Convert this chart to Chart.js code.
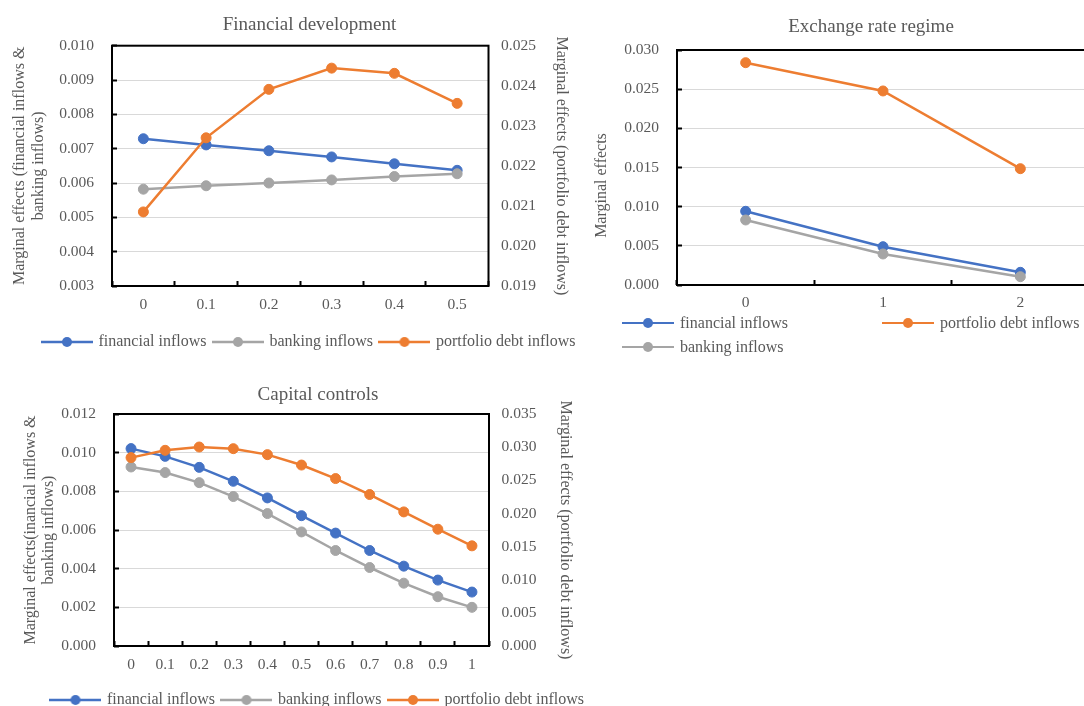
<!DOCTYPE html>
<html>
<head>
<meta charset="utf-8">
<title>Marginal effects</title>
<script src="https://cdn.jsdelivr.net/npm/chart.js@4.4.1/dist/chart.umd.min.js"></script>
<style>
  html, body { margin: 0; padding: 0; background: #fff; overflow: hidden; width: 1084px; height: 706px; }
  canvas { position: absolute; }
  #fdChart { left: 0; top: 0; }
  #erChart { left: 590px; top: 0; }
  #ccChart { left: 0; top: 370px; }
  .legend { position: absolute; left: 622px; top: 311px; display: grid; grid-template-columns: 260px auto; grid-auto-rows: 24px;
            font: 16px "Liberation Serif", "Times New Roman", serif; color: #595959; }
  .legend .item { display: flex; align-items: center; white-space: nowrap; }
  .legend .sym { position: relative; width: 52px; height: 2.5px; margin-right: 6px; }
  .legend .sym::after { content: ''; position: absolute; left: 21px; top: -3.75px; width: 10px; height: 10px; border-radius: 50%; background: inherit; }
</style>
</head>
<body>
<canvas id="fdChart" width="619" height="360"></canvas>
<canvas id="erChart" width="562" height="360"></canvas>
<canvas id="ccChart" width="636" height="348"></canvas>
<div class="legend" id="erLegend"></div>

<script>
// values
const fdLabels = ['0', '0.1', '0.2', '0.3', '0.4', '0.5'];
const fdFinancial = [0.00729, 0.00711, 0.00694, 0.00676, 0.00656, 0.00637];
const fdBanking = [0.00582, 0.00592, 0.00600, 0.00609, 0.00619, 0.00627];
const fdPortfolio = [0.02085, 0.02270, 0.02391, 0.02444, 0.02431, 0.02356];

const erLabels = ['0', '1', '2'];
const erFinancial = [0.00941, 0.00489, 0.00162];
const erBanking = [0.00830, 0.00396, 0.00106];
const erPortfolio = [0.02838, 0.02477, 0.01485];

const ccLabels = ['0', '0.1', '0.2', '0.3', '0.4', '0.5', '0.6', '0.7', '0.8', '0.9', '1'];
const ccFinancial = [0.01021, 0.00981, 0.00924, 0.00852, 0.00766, 0.00674, 0.00584, 0.00494, 0.00413, 0.00341, 0.00279];
const ccBanking = [0.00926, 0.00897, 0.00845, 0.00773, 0.00685, 0.00590, 0.00494, 0.00406, 0.00325, 0.00255, 0.00200];
const ccPortfolio = [0.02842, 0.02952, 0.03002, 0.02977, 0.02887, 0.02730, 0.02526, 0.02285, 0.02023, 0.01762, 0.01511];

const BLUE = '#4472C4';
const GREY = '#A5A5A5';
const ORANGE = '#ED7D31';
const TEXT = '#595959';

Chart.defaults.font.family = '"Liberation Serif", "Times New Roman", serif';
Chart.defaults.color = TEXT;
Chart.defaults.animation = false;

// little line-with-dot picture used as legend marker
function legendSymbol(color) {
    const c = document.createElement('canvas');
    c.width = 52;
    c.height = 12;
    const ctx = c.getContext('2d');
    ctx.strokeStyle = color;
    ctx.lineWidth = 2.5;
    ctx.beginPath();
    ctx.moveTo(0, 6);
    ctx.lineTo(52, 6);
    ctx.stroke();
    ctx.fillStyle = color;
    ctx.beginPath();
    ctx.arc(26, 6, 5, 0, Math.PI * 2);
    ctx.fill();
    return c;
}

function series(label, data, color, axis, order) {
    return {
        label: label,
        data: data,
        borderColor: color,
        backgroundColor: color,
        pointBackgroundColor: color,
        pointBorderColor: color,
        borderWidth: 2.5,
        pointRadius: 5,
        pointHoverRadius: 5,
        pointBorderWidth: 1,
        tension: 0,
        yAxisID: axis,
        order: order
    };
}

const fixWidth = w => scale => { scale.width = w; };
const fixHeight = h => scale => { scale.height = h; };
const fmt = v => v.toFixed(3);

function catAxis(height, pad) {
    return {
        type: 'category',
        offset: true,
        ticks: { padding: pad, font: { size: 15.5 }, autoSkip: false, maxRotation: 0 },
        grid: { offset: true, drawOnChartArea: false, tickLength: -5, tickColor: '#000', tickWidth: 2 },
        border: { display: false },
        afterFit: fixHeight(height)
    };
}

function leftAxis(min, max, step, title, width, titlePad) {
    return {
        type: 'linear',
        position: 'left',
        min: min,
        max: max,
        ticks: { stepSize: step, padding: 23, font: { size: 15.5 }, callback: fmt },
        grid: { color: '#D9D9D9', lineWidth: 1, tickLength: -5, tickColor: '#000', tickWidth: 2 },
        border: { display: false },
        title: { display: true, text: title, color: TEXT, font: { size: 16, lineHeight: 1.15 }, padding: { top: titlePad, bottom: 0 } },
        afterFit: fixWidth(width)
    };
}

function rightAxis(min, max, step, title, width, titlePad) {
    return {
        type: 'linear',
        position: 'right',
        min: min,
        max: max,
        ticks: { stepSize: step, padding: 12.5, font: { size: 15.5 }, callback: fmt },
        grid: { display: false, drawTicks: false },
        border: { display: false },
        title: { display: true, text: title, color: TEXT, font: { size: 16, lineHeight: 1.15 }, padding: { top: titlePad, bottom: 0 } },
        afterFit: fixWidth(width)
    };
}

function legendOpts() {
    return {
        position: 'bottom',
        labels: {
            usePointStyle: true,
            pointStyleWidth: 47,
            padding: 8,
            color: TEXT,
            font: { size: 16 },
            sort: (a, b) => a.datasetIndex - b.datasetIndex,
            generateLabels(chart) {
                return Chart.defaults.plugins.legend.labels.generateLabels(chart).map(item => {
                    item.pointStyle = legendSymbol(chart.data.datasets[item.datasetIndex].borderColor);
                    return item;
                });
            }
        }
    };
}

function titleOpts(text, top, bottom) {
    return { display: true, text: text, color: TEXT, font: { size: 19, weight: 'normal' }, padding: { top: top, bottom: bottom } };
}

// black frame round the plot area
const plotBox = {
    id: 'plotBox',
    beforeDatasetsDraw(chart) {
        const { ctx, chartArea: a } = chart;
        ctx.save();
        ctx.strokeStyle = '#000';
        ctx.lineWidth = 2;
        ctx.strokeRect(a.left, a.top, a.right - a.left, a.bottom - a.top);
        ctx.restore();
    }
};

const RIGHT_TITLE = 'Marginal effects (portfolio debt inflows)';

new Chart(document.getElementById('fdChart'), {
    type: 'line',
    data: {
        labels: fdLabels,
        datasets: [
            series('financial inflows', fdFinancial, BLUE, 'y', 2),
            series('banking inflows', fdBanking, GREY, 'y', 1),
            series('portfolio debt inflows', fdPortfolio, ORANGE, 'y1', 0)
        ]
    },
    options: {
        responsive: false,
        layout: { padding: 0 },
        plugins: {
            title: titleOpts('Financial development', 13.6, 9.3),
            legend: legendOpts(),
            tooltip: { enabled: false }
        },
        scales: {
            x: catAxis(40, 14.7),
            y: leftAxis(0.003, 0.010, 0.001, ['Marginal effects (financial inflows &', 'banking inflows)'], 112, 10.8),
            y1: rightAxis(0.019, 0.025, 0.001, RIGHT_TITLE, 130.5, 48.8)
        }
    },
    plugins: [plotBox]
});

new Chart(document.getElementById('erChart'), {
    type: 'line',
    data: {
        labels: erLabels,
        datasets: [
            series('financial inflows', erFinancial, BLUE, 'y', 2),
            series('banking inflows', erBanking, GREY, 'y', 1),
            series('portfolio debt inflows', erPortfolio, ORANGE, 'y', 0)
        ]
    },
    options: {
        responsive: false,
        layout: { padding: { bottom: 45 } },
        plugins: {
            title: titleOpts('Exchange rate regime', 15.3, 11.9),
            legend: { display: false },
            tooltip: { enabled: false }
        },
        scales: {
            x: catAxis(30, 14),
            y: leftAxis(0, 0.030, 0.005, 'Marginal effects' + '\u00a0'.repeat(9), 87, 2.5),
            // empty spacer so the plot runs past the right edge like the original
            yr: {
                type: 'linear',
                position: 'right',
                ticks: { display: false },
                grid: { display: false, drawTicks: false },
                border: { display: false },
                afterFit: fixWidth(63)
            }
        }
    },
    plugins: [plotBox]
});

// legend for the exchange rate chart, laid out in two columns
const erLegendItems = [
    ['financial inflows', BLUE],
    ['portfolio debt inflows', ORANGE],
    ['banking inflows', GREY]
];
document.getElementById('erLegend').innerHTML = erLegendItems.map(([label, color]) =>
    '<div class="item"><span class="sym" style="background:' + color + '"></span>' + label + '</div>'
).join('');

new Chart(document.getElementById('ccChart'), {
    type: 'line',
    data: {
        labels: ccLabels,
        datasets: [
            series('financial inflows', ccFinancial, BLUE, 'y', 2),
            series('banking inflows', ccBanking, GREY, 'y', 1),
            series('portfolio debt inflows', ccPortfolio, ORANGE, 'y1', 0)
        ]
    },
    options: {
        responsive: false,
        layout: { padding: 0 },
        plugins: {
            title: titleOpts('Capital controls', 13.6, 7.6),
            legend: legendOpts(),
            tooltip: { enabled: false }
        },
        scales: {
            x: catAxis(38, 14.7),
            y: leftAxis(0, 0.012, 0.002, ['Marginal effects(inancial inflows &', 'banking inflows)'], 114, 21.4),
            y1: rightAxis(0, 0.035, 0.005, RIGHT_TITLE, 147, 61.8)
        }
    },
    plugins: [plotBox]
});
</script>
</body>
</html>
